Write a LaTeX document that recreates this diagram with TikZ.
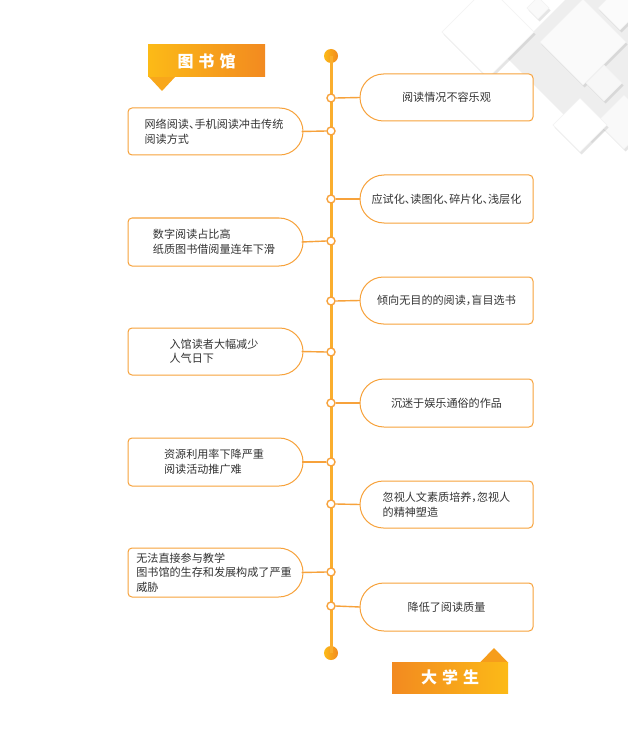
\documentclass[tikz,border=0pt]{standalone}
\usepackage{fontspec}
\setmainfont[RawFeature=+halt]{Noto Sans CJK SC}
\usetikzlibrary{shadows}
\definecolor{ora}{HTML}{F7A23B}
\definecolor{tline}{HTML}{FAAE2E}
\definecolor{txt}{HTML}{333333}
\definecolor{hy}{HTML}{FCBA17}
\definecolor{ho}{HTML}{F28A20}
\newcommand{\diam}[4]{\filldraw[#4] (#1-#3,-#2) -- (#1,-#2+#3) -- (#1+#3,-#2) -- (#1,-#2-#3) -- cycle;}
\newcommand{\rightbox}[5]{%
  \pgfmathsetmacro{\rr}{(#3-#2)/2}%
  \pgfmathsetmacro{\mm}{-(#2+#3)/2}%
  \pgfmathsetmacro{\hh}{#3-#2}%
  \draw[boxline] (360+\rr,-#2) -- (529,-#2) arc[start angle=90,end angle=0,radius=4] -- (533,-#3+4) arc[start angle=0,end angle=-90,radius=4] -- (360+\rr,-#3) arc[start angle=270,end angle=90,radius=\rr] -- cycle;
  \node[boxtext,minimum width=173pt,minimum height=\hh pt,align=#5] (#1) at (446.5,\mm) {#4};
}
\newcommand{\leftbox}[4]{%
  \pgfmathsetmacro{\rr}{(#3-#2)/2}%
  \pgfmathsetmacro{\mm}{-(#2+#3)/2}%
  \pgfmathsetmacro{\hh}{#3-#2}%
  \draw[boxline] (303-\rr,-#2) -- (132,-#2) arc[start angle=90,end angle=180,radius=4] -- (128,-#3+4) arc[start angle=180,end angle=270,radius=4] -- (303-\rr,-#3) arc[start angle=-90,end angle=90,radius=\rr] -- cycle;
  \node[boxtext,minimum width=175pt,minimum height=\hh pt,align=left] (#1) at (214,\mm) {#4};
}
\begin{document}
\begin{tikzpicture}[x=1pt,y=1pt,
  boxline/.style={draw=ora,line width=1pt,fill=white},
  boxtext/.style={inner sep=0pt,text=txt,font=\fontsize{11.1}{14.5}\selectfont},
  ring/.style={circle,draw=ora,line width=1.4pt,fill=white,minimum size=8pt,inner sep=0pt},
  dot/.style={circle,inner sep=0pt,minimum size=14pt,left color=hy,right color=ho},
  conn/.style={draw=ora,line width=1.4pt},
  headtext/.style={text=white,font=\fontsize{16}{18}\selectfont\bfseries,inner sep=0pt},
  soft/.style={fill=white,draw=gray!10,line width=0.6pt,drop shadow={opacity=0.2,shadow xshift=1.5pt,shadow yshift=-2.5pt}}
]
\fill[white] (0,0) rectangle (628,-735);
\useasboundingbox (0,0) rectangle (628,-735);
% decoration
\begin{scope}
\clip (0,0) rectangle (628,-735);
\diam{592}{58}{85}{fill=gray!13,draw=none}
\diam{488}{32}{46}{soft}
\diam{538}{8}{11}{soft,fill=gray!4}
\diam{583}{42}{43}{soft,fill=gray!4}
\diam{624}{122}{27}{soft,fill=gray!5}
\diam{604}{83}{18}{soft,fill=gray!6}
\diam{580}{125}{27}{soft}
\diam{620}{8}{22}{soft,fill=gray!3}
\end{scope}
% headers
\fill[hy!60!ho] (149,-77) -- (175,-77) -- (162,-91) -- cycle;
\node[headtext,minimum width=117pt,minimum height=32pt,left color=hy,right color=ho] (h1) at (206.5,-61) {图\hspace{5pt}书\hspace{5pt}馆};
\fill[hy!40!ho] (480,-662.5) -- (508,-662.5) -- (494,-648) -- cycle;
\node[headtext,minimum width=116pt,minimum height=31pt,left color=ho,right color=hy] (h2) at (450,-677.5) {大\hspace{5pt}学\hspace{5pt}生};
% timeline
\node[dot] (top) at (331,-56) {};
\node[dot] (bot) at (331,-653) {};
\draw[tline,line width=3pt] (top.center) -- (bot.center);
% rings
\foreach \n/\y in {r1/98,r2/199,r3/301,r4/403,r5/504,r6/606,l1/131,l2/241,l3/352,l4/462,l5/572}
  \node[ring] (c\n) at (331,-\y) {};
% right boxes
\rightbox{R1}{74}{121}{阅读情况不容乐观}{center}
\rightbox{R2}{175}{223}{应试化、读图化、碎片化、浅层化}{center}
\rightbox{R3}{277}{324}{倾向无目的的阅读，盲目选书}{center}
\rightbox{R4}{379}{427}{沉迷于娱乐通俗的作品}{center}
\rightbox{R5}{481}{528}{忽视人文素质培养，忽视人\\的精神塑造}{left}
\rightbox{R6}{583}{631}{降低了阅读质量}{center}
% left boxes
\leftbox{L1}{108}{155}{网络阅读、手机阅读冲击传统\\阅读方式}
\leftbox{L2}{218}{266}{数字阅读占比高\\纸质图书借阅量连年下滑}
\leftbox{L3}{328}{375}{入馆读者大幅减少\\人气日下}
\leftbox{L4}{438}{486}{资源利用率下降严重\\阅读活动推广难}
\leftbox{L5}{548}{597}{无法直接参与教学\\图书馆的生存和发展构成了严重\\威胁}
% connectors
\foreach \n in {1,...,6} \draw[conn] (cr\n.east) -- (R\n.west);
\foreach \n in {1,...,5} \draw[conn] (cl\n.west) -- (L\n.east);
\end{tikzpicture}
\end{document}
